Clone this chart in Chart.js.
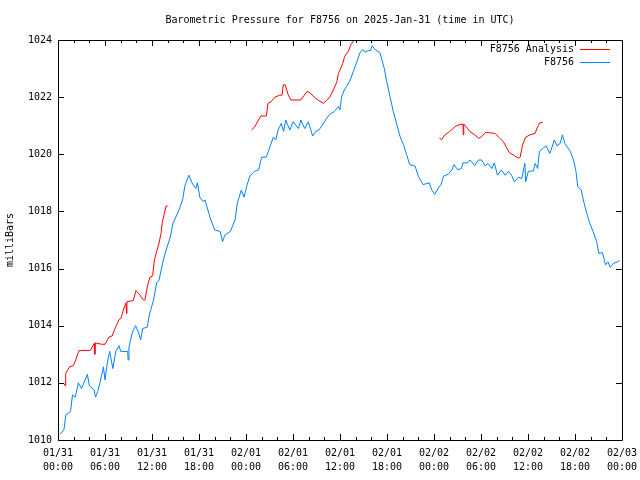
<!DOCTYPE html>
<html>
<head>
<meta charset="utf-8">
<script src="https://cdn.jsdelivr.net/npm/chart.js@4.4.1/dist/chart.umd.min.js"></script>
<style>
html,body{margin:0;padding:0;background:#fff;}
canvas{display:block;}
</style>
</head>
<body>
<canvas id="c" width="640" height="480"></canvas>
<script>
// ---- data (hours since 2025-01-31 00:00 UTC, pressure in mbar) ----
const chartTitle = 'Barometric Pressure for F8756 on 2025-Jan-31 (time in UTC)';
const yAxisTitle = 'milliBars';
const seriesNames = ['F8756 Analysis', 'F8756'];
const xTickDates = ['01/31','01/31','01/31','01/31','02/01','02/01','02/01','02/01','02/02','02/02','02/02','02/02','02/03'];
const xTickTimes = ['00:00','06:00','12:00','18:00','00:00','06:00','12:00','18:00','00:00','06:00','12:00','18:00','00:00'];
const yTickValues = [1010,1012,1014,1016,1018,1020,1022,1024];

const stationHours = [0.25,0.75,1.0,1.6,1.85,2.2,2.6,3.0,3.75,4.0,4.6,4.8,5.07,5.36,5.8,6.0,6.3,6.6,7.0,7.37,7.8,8.0,8.9,8.95,9.06,9.5,9.9,10.26,10.55,10.8,11.4,11.65,12.2,12.6,12.9,13.45,13.8,14.3,14.7,15.45,15.9,16.2,16.7,17.2,17.6,17.8,18.1,18.5,18.77,19.4,20.0,20.7,21.0,21.3,22.0,22.6,22.9,23.4,23.75,24.1,24.5,25.06,25.6,26.0,26.6,27.1,27.5,27.8,28.1,28.5,28.8,29.07,29.6,30.0,30.7,31.0,31.5,31.96,32.5,32.9,33.3,33.7,34.3,34.7,35.3,35.8,36.0,36.2,36.55,36.85,37.3,37.7,38.1,38.55,38.85,39.3,39.6,39.9,40.1,40.5,41.1,41.66,41.96,42.4,42.8,43.2,43.66,44.1,44.5,44.9,45.6,46.0,46.6,47.4,47.7,48.1,48.55,48.9,49.2,49.8,50.3,50.55,51.0,51.5,51.7,52.3,52.6,53.2,53.66,54.1,54.5,54.9,55.4,55.7,56.1,56.6,57.06,57.5,57.9,58.25,58.8,59.2,59.6,59.7,60.04,60.7,60.9,61.24,61.45,61.9,62.3,62.8,63.36,63.7,64.1,64.4,64.7,65.4,65.8,66.1,66.35,66.8,67.06,67.5,67.9,68.3,68.77,69.06,69.5,69.9,70.2,70.5,70.9,71.5,71.7];
const stationPressure = [1010.2,1010.35,1010.88,1011.0,1011.58,1011.5,1012.0,1011.8,1012.3,1011.9,1011.75,1011.5,1011.7,1012.0,1012.56,1012.1,1012.7,1013.1,1012.5,1013.1,1013.3,1013.1,1013.1,1012.8,1013.26,1013.78,1014.0,1013.78,1013.5,1013.9,1013.95,1014.37,1014.9,1015.5,1015.6,1016.3,1016.65,1017.07,1017.6,1018.05,1018.4,1018.9,1019.27,1018.95,1018.8,1019.0,1018.5,1018.35,1018.4,1017.8,1017.35,1017.3,1016.94,1017.17,1017.3,1017.7,1018.3,1018.75,1018.5,1018.9,1019.24,1019.4,1019.45,1019.9,1019.9,1020.3,1020.6,1020.5,1020.85,1021.08,1020.8,1021.2,1020.85,1021.14,1020.9,1021.2,1020.9,1021.14,1020.64,1020.8,1020.85,1021.0,1021.26,1021.4,1021.5,1021.67,1021.56,1022.0,1022.25,1022.38,1022.6,1022.9,1023.2,1023.55,1023.66,1023.58,1023.63,1023.63,1023.8,1023.66,1023.55,1023.0,1022.55,1022.0,1021.5,1021.1,1020.63,1020.34,1019.99,1019.64,1019.58,1019.23,1018.94,1019.0,1018.76,1018.6,1018.82,1018.94,1019.23,1019.3,1019.46,1019.64,1019.46,1019.5,1019.7,1019.7,1019.8,1019.6,1019.8,1019.8,1019.6,1019.68,1019.5,1019.7,1019.27,1019.45,1019.27,1019.4,1019.27,1019.04,1019.2,1019.15,1019.68,1019.04,1019.4,1019.42,1019.68,1019.5,1020.1,1020.2,1020.3,1020.03,1020.5,1020.3,1020.38,1020.68,1020.38,1020.1,1019.8,1019.45,1018.87,1018.75,1018.4,1017.93,1017.58,1017.3,1016.94,1016.53,1016.56,1016.13,1016.24,1016.04,1016.18,1016.24,1016.3];

// analysis series; null marks a gap in the record
const analysisHours = [0.75,0.9,0.98,1.5,1.96,2.26,2.68,4.09,4.64,4.7,4.75,5.57,6.0,6.5,6.9,7.28,7.8,8.04,8.34,8.68,8.75,8.8,9.6,9.96,10.47,10.9,11.1,11.45,11.74,12.08,12.3,12.6,12.9,13.15,13.3,13.57,13.8,14.0,
  19.0,
  24.7,25.06,25.6,25.9,26.6,26.8,27.2,27.7,28.3,28.6,28.76,29.0,29.4,29.75,31.0,31.45,31.8,32.2,32.7,33.2,33.9,34.3,34.7,35.15,35.6,35.8,36.0,36.35,36.6,37.06,37.4,37.8,38.2,
  43.0,
  48.7,49.0,49.4,49.96,50.7,51.2,51.7,51.75,51.8,52.1,52.6,53.2,53.7,54.1,54.6,55.8,56.4,56.85,57.2,57.6,58.1,58.77,59.0,59.3,59.7,60.26,60.9,61.24,61.5,61.88];
const analysisPressure = [1011.98,1011.9,1012.33,1012.57,1012.6,1012.8,1013.13,1013.13,1013.38,1013.0,1013.4,1013.35,1013.35,1013.6,1013.64,1013.9,1014.22,1014.26,1014.55,1014.8,1014.43,1014.84,1014.88,1015.23,1015.07,1014.9,1014.9,1015.43,1015.7,1015.74,1016.3,1016.6,1016.9,1017.23,1017.58,1017.93,1018.19,1018.19,
  null,
  1020.85,1020.94,1021.2,1021.34,1021.34,1021.78,1021.84,1022.0,1022.07,1022.07,1022.43,1022.43,1022.07,1021.9,1021.9,1022.07,1022.2,1022.15,1022.0,1021.9,1021.78,1021.9,1022.0,1022.25,1022.54,1022.83,1022.95,1023.18,1023.43,1023.6,1023.84,1024.0,1024.2,
  null,
  1020.56,1020.52,1020.68,1020.79,1020.97,1021.03,1021.06,1020.68,1021.06,1020.97,1020.79,1020.68,1020.56,1020.62,1020.77,1020.73,1020.56,1020.44,1020.27,1020.06,1019.98,1019.86,1019.9,1020.33,1020.6,1020.68,1020.73,1020.97,1021.1,1021.12];

// ---- styling ----
const FONT = 'DejaVu Sans Mono, Liberation Mono, monospace';
const RED = '#ff0000';
const BLUE = '#0080ff';

const toPoints = (xs, ys) => xs.map((x, i) => ({x: x, y: ys[i]}));

// frame + inward ticks on all four sides (gnuplot style)
const framePlugin = {
  id: 'frame',
  afterDatasetsDraw(chart) {
    const {ctx, chartArea: a, scales} = chart;
    const xs = scales.x, ys = scales.y;
    ctx.save();
    ctx.strokeStyle = '#000';
    ctx.lineWidth = 1;
    ctx.beginPath();
    ctx.rect(Math.round(a.left) + 0.5, Math.round(a.top) + 0.5, Math.round(a.right - a.left), Math.round(a.bottom - a.top));
    ctx.stroke();
    ctx.beginPath();
    for (let h = xs.min; h <= xs.max; h += 2) {
      const px = Math.round(xs.getPixelForValue(h)) + 0.5;
      const len = (h % 6 === 0) ? 6 : 3;
      ctx.moveTo(px, a.bottom); ctx.lineTo(px, a.bottom - len);
      ctx.moveTo(px, a.top); ctx.lineTo(px, a.top + len);
    }
    yTickValues.forEach(v => {
      const py = Math.round(ys.getPixelForValue(v)) + 0.5;
      ctx.moveTo(a.left, py); ctx.lineTo(a.left + 6, py);
      ctx.moveTo(a.right, py); ctx.lineTo(a.right - 6, py);
    });
    ctx.stroke();
    ctx.restore();
  }
};

// legend in upper right: text right-aligned, sample line after it
const legendPlugin = {
  id: 'gpLegend',
  afterDraw(chart) {
    const {ctx, chartArea: a} = chart;
    ctx.save();
    ctx.font = '10px ' + FONT;
    ctx.textAlign = 'right';
    ctx.textBaseline = 'middle';
    chart.data.datasets.forEach((ds, i) => {
      const y = a.top + 9 + i * 13;
      ctx.fillStyle = '#000';
      ctx.fillText(ds.label, a.right - 48, y);
      ctx.strokeStyle = ds.borderColor;
      ctx.lineWidth = 1;
      ctx.beginPath();
      ctx.moveTo(a.right - 42, Math.round(y) + 0.5);
      ctx.lineTo(a.right - 12, Math.round(y) + 0.5);
      ctx.stroke();
    });
    ctx.restore();
  }
};

new Chart(document.getElementById('c'), {
  type: 'line',
  data: {
    datasets: [
      {
        label: seriesNames[0],
        data: toPoints(analysisHours, analysisPressure),
        borderColor: RED,
        backgroundColor: RED,
        borderWidth: 1,
        pointRadius: 0,
        tension: 0,
        spanGaps: false
      },
      {
        label: seriesNames[1],
        data: toPoints(stationHours, stationPressure),
        borderColor: BLUE,
        backgroundColor: BLUE,
        borderWidth: 1,
        pointRadius: 0,
        tension: 0
      }
    ]
  },
  options: {
    responsive: false,
    animation: false,
    devicePixelRatio: 1,
    layout: {padding: {left: 0, right: 18, top: 0, bottom: 0}},
    plugins: {
      legend: {display: false},
      tooltip: {enabled: false},
      title: {
        display: true,
        text: chartTitle,
        fullSize: false,
        color: '#000',
        font: {family: FONT, size: 10, weight: 'normal'},
        padding: {top: 14, bottom: 14}
      }
    },
    scales: {
      x: {
        type: 'linear',
        min: 0,
        max: 72,
        grid: {display: false, drawTicks: false},
        border: {display: false},
        afterFit(s) { s.height = 40; s.paddingLeft = 15; s.paddingRight = 15; },
        ticks: {
          stepSize: 6,
          autoSkip: false,
          maxRotation: 0,
          padding: 6,
          color: '#000',
          font: {family: FONT, size: 10, lineHeight: 1.4},
          callback: (v) => {
            const i = Math.round(v / 6);
            return [xTickDates[i], xTickTimes[i]];
          }
        }
      },
      y: {
        type: 'linear',
        min: 1010,
        max: 1024,
        grid: {display: false, drawTicks: false},
        border: {display: false},
        afterFit(s) { s.width = 58; },
        title: {
          display: true,
          text: yAxisTitle,
          color: '#000',
          font: {family: FONT, size: 10, weight: 'normal'},
          padding: {top: 4, bottom: 0}
        },
        ticks: {
          stepSize: 2,
          padding: 6,
          color: '#000',
          font: {family: FONT, size: 10},
          callback: (v) => String(v)
        }
      }
    }
  },
  plugins: [framePlugin, legendPlugin]
});
</script>
</body>
</html>
